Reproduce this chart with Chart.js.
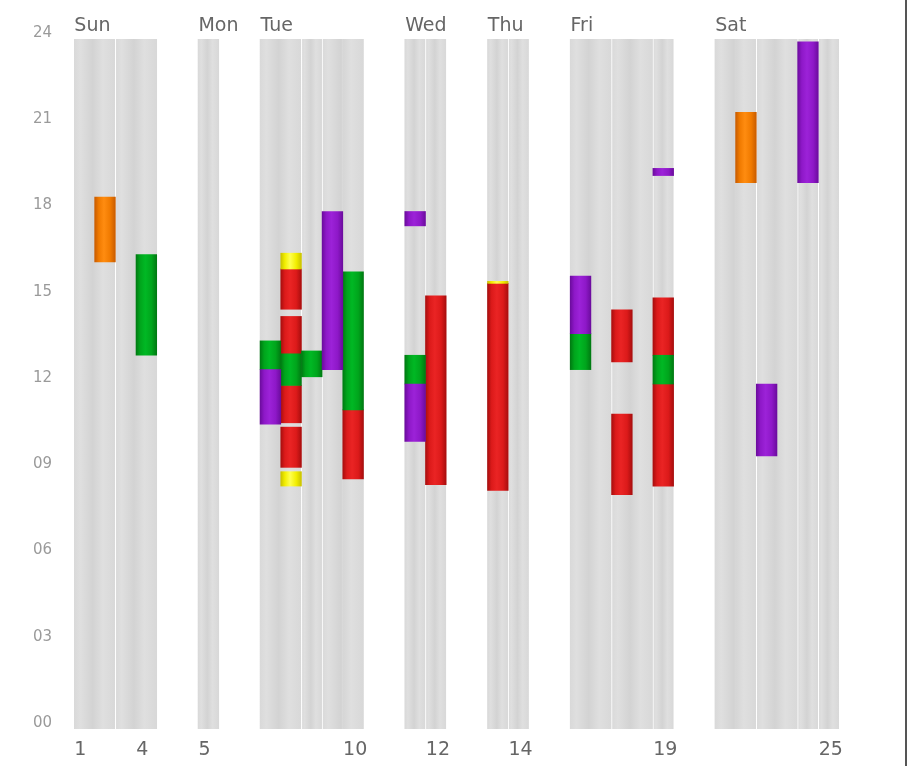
<!DOCTYPE html>
<html><head><meta charset="utf-8">
<script src="https://cdn.jsdelivr.net/npm/chart.js@4/dist/chart.umd.min.js"></script>
<style>
html,body{margin:0;padding:0;background:#fff;}
#wrap{position:relative;width:911px;height:766px;overflow:hidden;}
#edge{position:absolute;left:905px;top:0;width:2px;height:766px;background:#555;}
</style></head><body>
<div id="wrap"><canvas id="c" width="911" height="766"></canvas><div id="edge"></div></div>
<script>
// ---- data ----
const days = ['Sun','Mon','Tue','Wed','Thu','Fri','Sat'];
const blocksPerDay = [[2,2],[1],[2,1,2],[1,1],[1,1],[2,2,1],[2,2,1,1]];
const tickColumns = [1,4,5,10,12,14,19,25];
const hourMin = 0, hourMax = 24, hourStep = 3;
// events: [column, start hour, end hour]
const orangeEvents = [[2,16.25,18.5],[21,19.0,21.45]];
const greenEvents  = [[4,13.0,16.5],[6,12.5,13.5],[7,11.95,13.05],[8,12.25,13.15],[10,11.1,15.9],[11,12.0,13.0],[15,12.5,13.75],[19,12.0,13.0]];
const redEvents    = [[7,14.6,16.0],[7,13.05,14.35],[7,10.65,11.95],[7,9.1,10.5],[10,8.7,11.1],[12,8.5,15.07],[13,8.3,15.5],[17,12.77,14.58],[17,8.15,10.95],[19,13.0,15.0],[19,8.45,12.0]];
const purpleEvents = [[6,10.6,12.5],[9,12.5,18.0],[11,17.5,18.0],[11,10.0,12.0],[15,13.75,15.75],[19,19.25,19.5],[22,9.5,12.0],[24,19.0,23.9]];
const yellowEvents = [[7,16.0,16.55],[7,8.45,8.95],[13,15.5,15.57]];

const palette = {
  orange: ['#c95c00','#f07a00','#ff8c10'],
  green:  ['#007a12','#00a51c','#00b824'],
  red:    ['#a80e0e','#dc1a1a','#ea2424'],
  purple: ['#6c0c9e','#8e18c8','#9c22d8'],
  yellow: ['#c9c200','#f2ee00','#ffff50']
};

// ---- layout of slots ----
const GAP = 2;
const slotLabels = [], dayLabels = [], bgData = [], blockOfSlot = [], colToSlot = {};
let slot = 0, col = 1;
days.forEach((d, di) => {
  if (di > 0) for (let g = 0; g < GAP; g++) { slotLabels.push(''); dayLabels.push(''); bgData.push(null); blockOfSlot.push(null); slot++; }
  let first = true;
  blocksPerDay[di].forEach((w, bi) => {
    const start = slot;
    for (let k = 0; k < w; k++) {
      colToSlot[col] = slot;
      slotLabels.push(tickColumns.includes(col) ? String(col) : '');
      dayLabels.push(first ? d : ''); first = false;
      bgData.push([hourMin, hourMax]);
      blockOfSlot.push({start: start, end: start + w, sep: bi > 0 && k === 0});
      slot++; col++;
    }
  });
});
const nSlots = slotLabels.length;

function slotEdges(chart, s0, s1) {
  const a = chart.chartArea; const w = (a.right - a.left) / nSlots;
  return [a.left + s0 * w, a.left + s1 * w];
}
function barGradient(ctx, colors) {
  const chart = ctx.chart;
  if (!chart.chartArea) return colors[1];
  const [x0, x1] = slotEdges(chart, ctx.dataIndex, ctx.dataIndex + 1);
  const g = chart.ctx.createLinearGradient(x0, 0, x1, 0);
  g.addColorStop(0, colors[0]); g.addColorStop(0.2, colors[1]); g.addColorStop(0.45, colors[2]);
  g.addColorStop(0.75, colors[1]); g.addColorStop(1, colors[0]);
  return g;
}
function bgGradient(ctx) {
  const chart = ctx.chart; const b = blockOfSlot[ctx.dataIndex];
  if (!chart.chartArea || !b) return '#dadada';
  const [x0, x1] = slotEdges(chart, b.start, b.end);
  const g = chart.ctx.createLinearGradient(x0, 0, x1, 0);
  g.addColorStop(0, '#d9d9d9'); g.addColorStop(0.15, '#dfdfdf'); g.addColorStop(0.45, '#d3d3d3');
  g.addColorStop(0.7, '#dfdfdf'); g.addColorStop(1, '#d8d8d8');
  return g;
}

const datasets = [];
[['yellow', yellowEvents],['orange', orangeEvents],['purple', purpleEvents],['green', greenEvents],['red', redEvents]].forEach(([name, list]) => {
  list.forEach(ev => {
    const data = new Array(nSlots).fill(null);
    data[colToSlot[ev[0]]] = [ev[1], ev[2]];
    datasets.push({
      data: data, order: 0, grouped: false,
      backgroundColor: ctx => barGradient(ctx, palette[name]),
      borderWidth: 0, barPercentage: 1, categoryPercentage: 1
    });
  });
});
datasets.push({
  data: bgData, order: 10, grouped: false,
  backgroundColor: bgGradient,
  borderColor: '#ffffff', borderSkipped: false,
  borderWidth: ctx => { const b = blockOfSlot[ctx.dataIndex]; return {left: b && b.sep ? 1 : 0, right: 0, top: 0, bottom: 0}; },
  barPercentage: 1, categoryPercentage: 1
});

const FONT = 'DejaVu Sans';
new Chart(document.getElementById('c'), {
  type: 'bar',
  data: { labels: slotLabels, datasets: datasets },
  options: {
    responsive: false, animation: false,
    layout: { padding: { left: 0, right: 72, top: 0, bottom: 0 } },
    plugins: { legend: { display: false }, tooltip: { enabled: false } },
    scales: {
      x: {
        type: 'category', position: 'bottom', offset: true,
        grid: { display: false, drawTicks: false }, border: { display: false },
        ticks: { autoSkip: false, maxRotation: 0, align: 'start', labelOffset: -10, padding: 10,
                 color: '#666', font: { family: FONT, size: 19 } },
        afterFit: s => { s.height = 37; }
      },
      xTop: {
        type: 'category', position: 'top', offset: true, labels: dayLabels,
        grid: { display: false, drawTicks: false }, border: { display: false },
        ticks: { autoSkip: false, maxRotation: 0, align: 'start', labelOffset: -10, padding: 2,
                 color: '#666', font: { family: FONT, size: 19 } },
        afterFit: s => { s.height = 39; }
      },
      y: {
        min: hourMin, max: hourMax,
        grid: { display: false, drawTicks: false }, border: { display: false },
        ticks: { stepSize: hourStep, padding: 22, labelOffset: -6, color: '#9a9a9a',
                 font: { family: FONT, size: 15 },
                 callback: v => String(v).padStart(2, '0') },
        afterFit: s => { s.width = 74; }
      }
    }
  }
});
</script>
</body></html>
